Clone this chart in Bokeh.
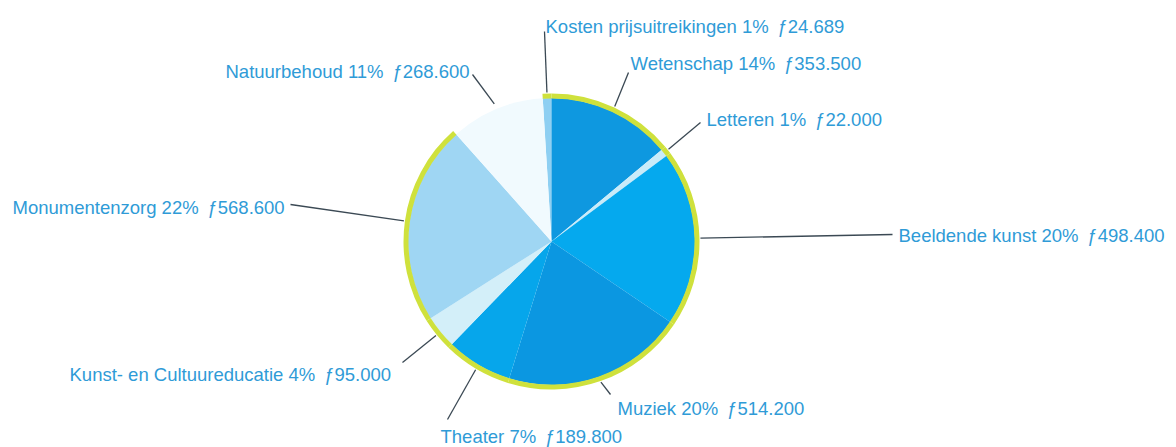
import numpy as np
from bokeh.plotting import figure
from bokeh.models import Range1d, ColumnDataSource
from bokeh.core.properties import value
from bokeh.embed import file_html
from bokeh.resources import INLINE

# ---- data ----
categories = ["Kosten prijsuitreikingen", "Wetenschap", "Letteren", "Beeldende kunst",
              "Muziek", "Theater", "Kunst- en Cultuureducatie", "Monumentenzorg", "Natuurbehoud"]
amounts = [24689, 353500, 22000, 498400, 514200, 189800, 95000, 568600, 268600]
percents = [1, 14, 1, 20, 20, 7, 4, 22, 11]

# ---- styles ----
slice_colors = ["#8ecff2", "#0e98e0", "#c9ebf9", "#05a9ee", "#0b97e1",
                "#06a6eb", "#d3eff9", "#9fd6f3", "#f1fafe"]
has_rim = [True, True, True, True, True, True, True, True, False]
rim_color = "#cfe13c"
text_color = "#2f9bd7"
line_color = "#3b4954"

# ---- layout (screen pixel coordinates) ----
W, H = 1176, 447
cx, cy = 551, 241
r_in, r_out = 143, 148
label_pos = [(545, 26), (630, 63), (706, 119), (898, 235), (617, 408),
             (440, 436), (69, 374), (12, 207), (225, 71)]
leader_end = [(544, 31), (628, 72), (700, 122), (892, 234), (610, 394),
              (447, 419), (402, 362), (290, 204), (472, 74)]
leader_inner_r = [149, 149, 149, 149, 149, 149, 149, 149, 149]

vals = np.array(amounts, dtype=float)
total = vals.sum()
frac = vals / total
start0 = np.pi / 2 + 2 * np.pi * frac[0]
cum = np.concatenate([[0], np.cumsum(frac)])
a_start = start0 - 2 * np.pi * cum[:-1]
a_end = start0 - 2 * np.pi * cum[1:]
a_mid = (a_start + a_end) / 2

p = figure(width=W, height=H, output_backend="svg", toolbar_location=None,
           x_range=Range1d(0, W), y_range=Range1d(0, H),
           min_border=0, outline_line_color=None, background_fill_color="white")
p.axis.visible = False
p.xgrid.visible = False
p.ygrid.visible = False

src = ColumnDataSource(dict(start=a_end, end=a_start, color=slice_colors))
p.wedge(x=cx, y=H - cy, radius=r_in + 0.5, start_angle="start", end_angle="end",
        fill_color="color", line_color=None, source=src)

rim_idx = [i for i in range(len(amounts)) if has_rim[i]]
p.annular_wedge(x=cx, y=H - cy, inner_radius=r_in, outer_radius=r_out,
                start_angle=[a_end[i] for i in rim_idx], end_angle=[a_start[i] for i in rim_idx],
                fill_color=rim_color, line_color=None)

x0 = [cx + leader_inner_r[i] * np.cos(a_mid[i]) for i in range(len(amounts))]
y0 = [H - (cy - leader_inner_r[i] * np.sin(a_mid[i])) for i in range(len(amounts))]
x1 = [e[0] for e in leader_end]
y1 = [H - e[1] for e in leader_end]
p.segment(x0=x0, y0=y0, x1=x1, y1=y1, line_color=line_color, line_width=1.3)

def fmt(v):
    return "\u0192" + f"{v:,}".replace(",", ".")

labels = [f"{c} {pc}%\u00a0\u2009{fmt(a)}" for c, pc, a in zip(categories, percents, amounts)]
p.text(x=[lp[0] for lp in label_pos], y=[H - lp[1] for lp in label_pos], text=labels,
       text_font=value("Liberation Sans"), text_font_size="18.5px",
       text_color=text_color, text_align="left", text_baseline="alphabetic")

open("out.html", "w").write(file_html(p, INLINE))
